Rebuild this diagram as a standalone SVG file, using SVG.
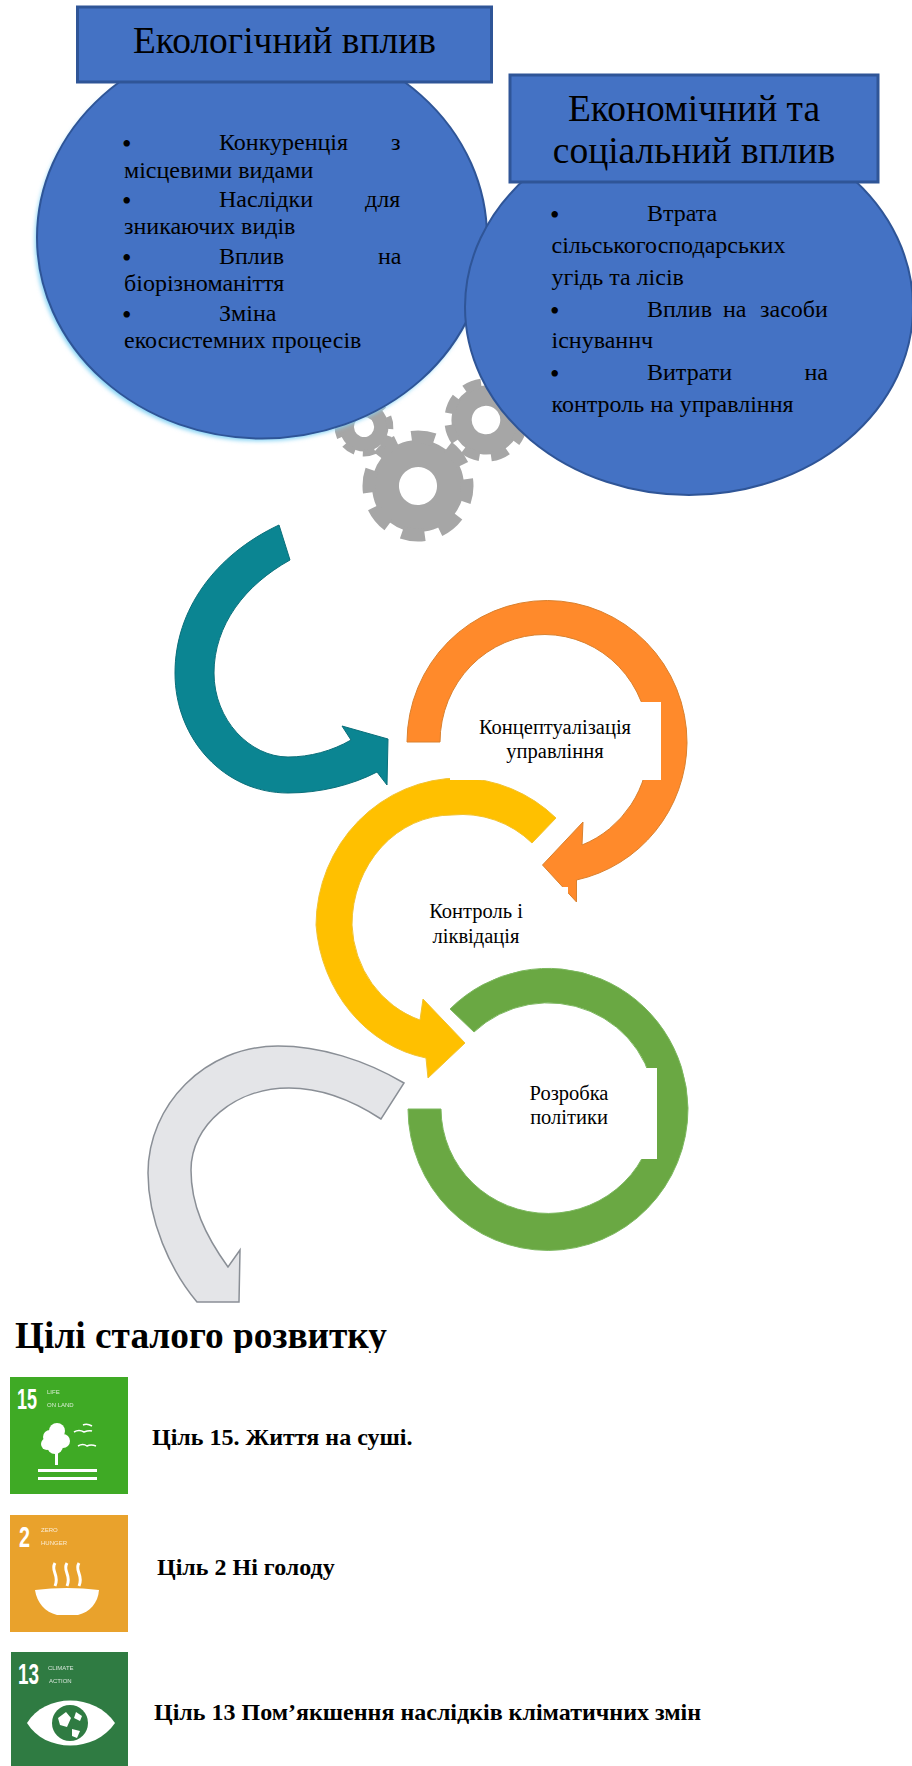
<svg xmlns="http://www.w3.org/2000/svg" width="912" height="1766" viewBox="0 0 912 1766">
<style>
text{font-family:"Liberation Serif","Times New Roman",serif;fill:#000}
.box{fill:#4472C4;stroke:#2F5597;stroke-width:3}
.oval{fill:#4472C4;stroke:#2F5597;stroke-width:2}
.title{font-size:37.500px;text-anchor:middle}
.li{font-size:24px}
.bu{font-size:27px}
.lab{font-size:20.500px;text-anchor:middle}
.goal{font-size:24px;font-weight:bold}
.tn{font-family:"Liberation Sans",Arial,sans-serif;font-weight:bold;fill:#fff;font-size:29px}
.ts{font-family:"Liberation Sans",Arial,sans-serif;fill:#fff;font-size:6px;opacity:.8}
.gt{fill:none;stroke:#A6A6A6}
.w{fill:#fff}
</style>
<defs>
<filter id="soft" x="-10%" y="-10%" width="120%" height="120%"><feGaussianBlur stdDeviation="2"/></filter>
<g id="gear">
<circle class="gt" r="32.500" stroke-width="27"/>
<circle class="gt" r="49" stroke-width="13" stroke-dasharray="23 15.480"/>
</g>
</defs>
<rect width="912" height="1766" fill="#fff"/>
<g id="gears">
<use href="#gear" transform="translate(418 486) rotate(-8)"/>
<use href="#gear" transform="translate(486 420) rotate(10) scale(.75)"/>
<use href="#gear" transform="translate(364 427) rotate(20) scale(.53)"/>
</g>
<g id="eco">
<ellipse cx="260" cy="241" rx="225" ry="200" fill="#86D3F5" filter="url(#soft)"/>
<ellipse class="oval" cx="262" cy="237.500" rx="225" ry="201"/>
<rect class="box" x="77.500" y="7" width="414" height="75"/>
<text class="title" x="284.500" y="53" textLength="303" lengthAdjust="spacingAndGlyphs">Екологічний вплив</text>
<text class="bu" x="122" y="153">•</text><text class="li" x="219" y="150">Конкуренція</text><text class="li" x="391" y="150">з</text>
<text class="li" x="124" y="177.500">місцевими видами</text>
<text class="bu" x="122" y="210">•</text><text class="li" x="219" y="207">Наслідки</text><text class="li" x="365" y="207">для</text>
<text class="li" x="124" y="234">зникаючих видів</text>
<text class="bu" x="122" y="267">•</text><text class="li" x="219" y="264">Вплив</text><text class="li" x="378" y="264">на</text>
<text class="li" x="124" y="291">біорізноманіття</text>
<text class="bu" x="122" y="324">•</text><text class="li" x="219" y="321">Зміна</text>
<text class="li" x="124" y="348">екосистемних процесів</text>
</g>
<g id="econ">
<ellipse class="oval" cx="689" cy="307" rx="224" ry="188"/>
<rect class="box" x="510" y="75" width="368" height="107"/>
<text class="title" x="694" y="121">Економічний та</text>
<text class="title" x="694" y="162.500">соціальний вплив</text>
<text class="bu" x="550" y="224">•</text><text class="li" x="647" y="221">Втрата</text>
<text class="li" x="551.500" y="253">сільськогосподарських</text>
<text class="li" x="551.500" y="285">угідь та лісів</text>
<text class="bu" x="550" y="320">•</text><text class="li" x="647" y="317">Вплив</text><text class="li" x="723" y="317">на</text><text class="li" x="760" y="317">засоби</text>
<text class="li" x="551.500" y="348">існуваннч</text>
<text class="bu" x="550" y="383">•</text><text class="li" x="647" y="380">Витрати</text><text class="li" x="804.500" y="380">на</text>
<text class="li" x="551.500" y="412">контроль на управління</text>
</g>
<g id="connectors">
<path id="arrow-teal" fill="#0B8592" stroke="#0A6F7A" stroke-width="1" d="M279,525C215,555 175,610 175,673C175,740 225,793 288,793C320,793 352,785 377,772L387,785L388,739L342,726L351,740C332,751 310,757 288,757C250,757 214,720 214,673C214,625 245,585 290,560Z"/>
<path id="arrow-orange" fill="#FF8A2B" stroke="#D9812F" stroke-width="1" d="M407,742A140,142 0 0 1 687,743A140,142 0 0 1 576.500,880L576.500,902L542.500,865L583,822L582,845A104.500,108 0 0 0 649,743A104.500,108 0 0 0 440,742Z"/>
<path id="arrow-yellow" fill="#FFC000" stroke="#F2C230" stroke-width="1" d="M556,818A144,148 0 0 0 460,778A144,148 0 0 0 316,925A135,148 0 0 0 426,1058L428,1078L465,1043L423,999L420,1020A100,105 0 0 1 352,925A100,110 0 0 1 452,815A100,100 0 0 1 532,843Z"/>
<path id="arrow-green" fill="#6AA843" stroke="#7DB860" stroke-width="1" d="M450,1009A140,142 0 0 1 688,1108A140,142 0 0 1 408,1109L441,1109A107,105 0 0 0 655,1108A107,105 0 0 0 474,1032Z"/>
<path id="arrow-gray" fill="#E4E5E8" stroke="#8A8F96" stroke-width="1.500" d="M404,1083C365,1060 320,1046 278,1046C205,1046 148,1105 148,1173C148,1220 170,1270 197,1302L239,1302L240,1250L228,1267C205,1235 191,1205 191,1170C191,1125 235,1088 289,1088C320,1088 352,1100 381,1119Z"/>
</g>
<g id="conceptualization">
<rect class="w" x="450" y="702" width="211" height="78"/>
<text class="lab" x="555" y="734">Концептуалізація</text>
<text class="lab" x="555" y="758">управління</text>
</g>
<g id="control">
<rect class="w" x="385" y="887" width="183" height="68"/>
<text class="lab" x="476" y="918">Контроль і</text>
<text class="lab" x="476" y="943">ліквідація</text>
</g>
<g id="policy">
<rect class="w" x="480" y="1068" width="177" height="91"/>
<text class="lab" x="569" y="1100">Розробка</text>
<text class="lab" x="569" y="1124">політики</text>
</g>
<g id="heading">
<text x="15" y="1348" font-size="37" font-weight="bold" textLength="372" lengthAdjust="spacingAndGlyphs">Цілі сталого розвитку</text>
<rect class="w" x="0" y="1353" width="420" height="14"/>
</g>
<g id="goal15">
<rect x="10" y="1377" width="118" height="117" fill="#3FAA25"/>
<text class="tn" x="17" y="1409" textLength="20" lengthAdjust="spacingAndGlyphs">15</text>
<text class="ts" x="47" y="1394">LIFE</text><text class="ts" x="47" y="1407">ON LAND</text>
<g fill="#fff"><circle cx="50" cy="1437" r="7"/><circle cx="57" cy="1431" r="8"/><circle cx="47" cy="1444" r="6"/><circle cx="55" cy="1446" r="8"/><circle cx="63" cy="1441" r="7"/><rect x="55" y="1450" width="3" height="15"/><rect x="38" y="1469" width="59" height="3"/><rect x="38" y="1477" width="59" height="3"/></g>
<path d="M74,1432q5,-3 10,0q5,-2 8,-1M83,1425q4,-2 9,1M78,1446q5,-3 9,0q4,-2 9,0" fill="none" stroke="#fff" stroke-width="1.500"/>
<text class="goal" x="152" y="1445">Ціль 15. Життя на суші.</text>
</g>
<g id="goal2">
<rect x="10" y="1515" width="118" height="117" fill="#E9A22C"/>
<text class="tn" x="19" y="1547" textLength="11" lengthAdjust="spacingAndGlyphs">2</text>
<text class="ts" x="41" y="1532">ZERO</text><text class="ts" x="41" y="1545">HUNGER</text>
<path d="M35,1590Q67,1586 99,1590C98,1603 90,1612 78,1615H57C45,1612 37,1603 35,1590Z" fill="#fff"/>
<path d="M55,1563c-5,8 5,12 0,23M67,1563c-5,8 5,12 0,23M79,1563c-5,8 5,12 0,23" fill="none" stroke="#fff" stroke-width="3"/>
<text class="goal" x="157" y="1575">Ціль 2 Ні голоду</text>
</g>
<g id="goal13">
<rect x="11" y="1652" width="117" height="114" fill="#2F7B42"/>
<text class="tn" x="18" y="1684" textLength="21" lengthAdjust="spacingAndGlyphs">13</text>
<text class="ts" x="48" y="1670">CLIMATE</text><text class="ts" x="49" y="1683">ACTION</text>
<path d="M27,1723C45,1693 95,1693 115,1723C95,1753 45,1753 27,1723Z" fill="#fff"/>
<circle cx="70" cy="1723" r="18" fill="#2F7B42"/>
<path d="M58,1718l8,-6l5,6l-4,9l-7,-2ZM72,1729l8,2l-3,7l-5,-2ZM76,1712l6,4l-2,5l-6,-3Z" fill="#fff"/>
<text class="goal" x="154" y="1720">Ціль 13 Пом’якшення наслідків кліматичних змін</text>
</g>
</svg>
